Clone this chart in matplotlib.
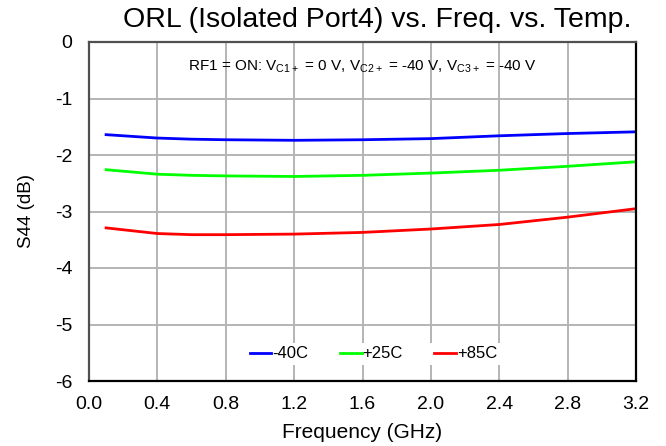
import matplotlib
matplotlib.use("Agg")
import matplotlib.pyplot as plt

plt.rcParams['font.family'] = ['Liberation Sans', 'DejaVu Sans']

freq = [0.1, 0.4, 0.6, 0.8, 1.2, 1.6, 2.0, 2.4, 2.8, 3.2]
s44_m40 = [-1.64, -1.70, -1.72, -1.73, -1.74, -1.73, -1.71, -1.66, -1.62, -1.59]
s44_p25 = [-2.26, -2.34, -2.36, -2.37, -2.38, -2.36, -2.32, -2.27, -2.20, -2.12]
s44_p85 = [-3.29, -3.39, -3.41, -3.41, -3.40, -3.37, -3.31, -3.23, -3.10, -2.95]
labels = ['-40C', '+25C', '+85C']
colors = ['#0000ff', '#00ff00', '#ff0000']
xticks = [0.0, 0.4, 0.8, 1.2, 1.6, 2.0, 2.4, 2.8, 3.2]
yticks = [0, -1, -2, -3, -4, -5, -6]

fig = plt.figure(figsize=(6.66, 4.46), dpi=100)
ax = fig.add_axes([89/666, 1-381/446, (636-89)/666, (381-42)/446])

for ys, lab, c in zip([s44_m40, s44_p25, s44_p85], labels, colors):
    ax.plot(freq, ys, color=c, lw=2, label=lab)

ax.set_xlim(0, 3.2)
ax.set_ylim(-6, 0)
ax.set_xticks(xticks)
ax.set_xticklabels([f"{t:.1f}" for t in xticks])
ax.set_yticks(yticks)
ax.set_yticklabels([str(t) for t in yticks])
ax.tick_params(axis='x', length=0, labelsize=14, pad=11)
ax.tick_params(axis='y', length=0, labelsize=14, pad=12)
ax.grid(True, color='#b4b4b4', lw=1.4)
for name, s in ax.spines.items():
    s.set_linewidth(1.6)
    s.set_color('#505050' if name in ('left', 'top') else 'black')

ax.set_xlabel('Frequency (GHz)', fontsize=15, labelpad=7)
ax.set_ylabel('S44 (dB)', fontsize=13.5, labelpad=14)

fig.text(377/666, 1-20/446, 'ORL (Isolated Port4) vs. Freq. vs. Temp.', fontsize=20.5,
         ha='center', va='center')
ax.text(0.5, 0.928, r'RF1 = ON: V$_{\mathregular{C1+}}$ = 0 V, V$_{\mathregular{C2+}}$ = -40 V, V$_{\mathregular{C3+}}$ = -40 V',
        transform=ax.transAxes, ha='center', va='center', fontsize=11)

leg = ax.legend(loc='center', bbox_to_anchor=(0.52, (381-354)/339), ncol=3, frameon=True,
                fontsize=12, handlelength=1.3, handletextpad=0.05, columnspacing=1.9,
                borderpad=0.2, fancybox=False)
leg.get_frame().set_edgecolor('none')
leg.get_frame().set_facecolor('white')
leg.get_frame().set_alpha(1)

fig.savefig('out.png', dpi=100)
